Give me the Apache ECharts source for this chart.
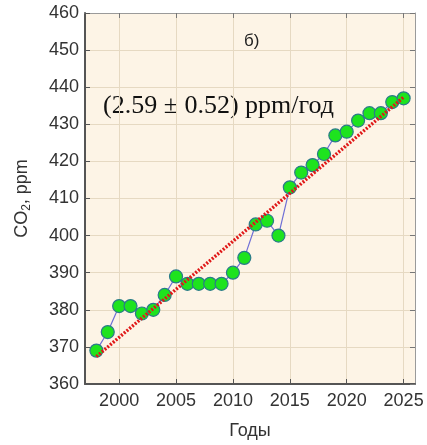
<!DOCTYPE html>
<html>
<head>
<meta charset="utf-8">
<script src="https://cdn.jsdelivr.net/npm/echarts@6/dist/echarts.min.js"></script>
<style>
  html, body { margin: 0; padding: 0; background: #ffffff; }
  #chart { width: 427px; height: 445px; }
</style>
</head>
<body>
<div id="chart"></div>
<script>
// Annual mean CO2 concentration, ppm
const years = [1998, 1999, 2000, 2001, 2002, 2003, 2004, 2005, 2006, 2007, 2008, 2009,
               2010, 2011, 2012, 2013, 2014, 2015, 2016, 2017, 2018, 2019, 2020, 2021,
               2022, 2023, 2024, 2025];
const co2 = [369, 374, 381, 381, 379, 380, 384, 389, 387, 387, 387, 387,
             390, 394, 403, 404, 400, 413, 417, 419, 422, 427, 428, 431,
             433, 433, 436, 437];

// Linear trend end points (slope 2.59 ppm per year)
const trendYears = [1998, 2025];
const trendValues = [367.4, 437.3];

const xTicks = [2000, 2005, 2010, 2015, 2020, 2025];
const yMin = 360, yMax = 460, yStep = 10;
const xMin = 1997, xMax = 2026;

const slopeText = '(2.59 ± 0.52) ppm/год';
const panelText = 'б)';

const chart = echarts.init(document.getElementById('chart'), null, { renderer: 'canvas' });

const sans = 'Liberation Sans, Arial, sans-serif';
const gridLine = { show: true, lineStyle: { color: '#e6d9c2', width: 1 } };
const labelFont = { fontFamily: sans, fontSize: 18, color: '#333333' };

chart.setOption({
  animation: false,
  backgroundColor: '#ffffff',
  grid: {
    left: 85, right: 12, top: 13, bottom: 51,
    show: true, backgroundColor: '#fdf4e6', borderWidth: 0
  },
  xAxis: [
    {
      type: 'value', min: xMin, max: xMax, position: 'bottom',
      name: 'Годы', nameLocation: 'middle', nameGap: 38,
      nameTextStyle: labelFont,
      axisLine: { show: true, onZero: false, lineStyle: { color: '#555555', width: 2 } },
      axisTick: { show: true, inside: true, length: 5, customValues: xTicks, lineStyle: { color: '#555555' } },
      axisLabel: Object.assign({ customValues: xTicks, margin: 8, formatter: v => String(v) }, labelFont),
      splitLine: gridLine
    },
    {
      type: 'value', min: xMin, max: xMax, position: 'top',
      axisLine: { show: true, onZero: false, lineStyle: { color: '#9a9a9a', width: 1 } },
      axisTick: { show: true, inside: true, length: 5, customValues: xTicks, lineStyle: { color: '#777777' } },
      axisLabel: { show: false, customValues: xTicks },
      splitLine: { show: false }
    }
  ],
  yAxis: [
    {
      type: 'value', min: yMin, max: yMax, interval: yStep, position: 'left',
      name: '{a|CO}{s|2}{a|, ppm}', nameLocation: 'middle', nameGap: 52, nameRotate: 90,
      nameTextStyle: {
        rich: {
          a: { fontFamily: sans, fontSize: 18, color: '#333333' },
          s: { fontFamily: sans, fontSize: 12, color: '#333333', verticalAlign: 'bottom', padding: [9, 0, 0, 0] }
        }
      },
      axisLine: { show: true, onZero: false, lineStyle: { color: '#555555', width: 2 } },
      axisTick: { show: true, inside: true, length: 5, lineStyle: { color: '#555555' } },
      axisLabel: Object.assign({ margin: 6 }, labelFont),
      splitLine: gridLine
    },
    {
      type: 'value', min: yMin, max: yMax, interval: yStep, position: 'right',
      axisLine: { show: true, onZero: false, lineStyle: { color: '#9a9a9a', width: 1 } },
      axisTick: { show: true, inside: true, length: 5, lineStyle: { color: '#777777' } },
      axisLabel: { show: false },
      splitLine: { show: false }
    }
  ],
  series: [
    {
      type: 'line',
      data: years.map((y, i) => [y, co2[i]]),
      symbol: 'circle',
      symbolSize: 13,
      lineStyle: { color: '#6f6fd6', width: 1.2 },
      itemStyle: { color: '#1ee31e', borderColor: '#2a7a8a', borderWidth: 1.2 },
      z: 2
    },
    {
      type: 'line',
      data: trendYears.map((y, i) => [y, trendValues[i]]),
      symbol: 'none',
      lineStyle: { color: '#e01818', width: 3.4, type: [2, 1.6] },
      z: 4
    }
  ],
  graphic: [
    {
      type: 'text', left: 103, top: 93,
      style: { text: slopeText, font: '26px "Liberation Serif", "Times New Roman", serif', fill: '#111111' }
    },
    {
      type: 'text', left: 244, top: 33,
      style: { text: panelText, font: '17px "Liberation Sans", Arial, sans-serif', fill: '#222222' }
    }
  ]
});
</script>
</body>
</html>
